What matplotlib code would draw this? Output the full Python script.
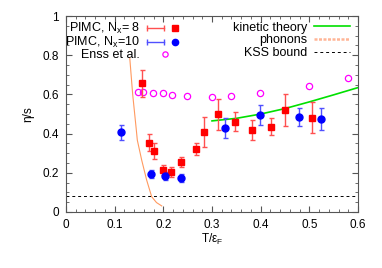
import numpy as np
import matplotlib.pyplot as plt
from matplotlib.lines import Line2D
from matplotlib.legend_handler import HandlerLine2D, HandlerTuple
from matplotlib.ticker import MultipleLocator, FormatStrFormatter

plt.rcParams['font.family'] = ['Liberation Sans', 'DejaVu Sans']
plt.rcParams['mathtext.fontset'] = 'custom'
plt.rcParams['mathtext.rm'] = 'Liberation Sans'
plt.rcParams['mathtext.it'] = 'Liberation Sans'

# PIMC, Nx = 8
t8 = [0.156, 0.1705, 0.181, 0.199, 0.215, 0.236, 0.267, 0.284, 0.313, 0.348, 0.383, 0.421, 0.45, 0.505]
eta8 = [0.657, 0.354, 0.313, 0.214, 0.206, 0.257, 0.32, 0.41, 0.498, 0.461, 0.418, 0.435, 0.52, 0.481]
err8 = [0.07, 0.045, 0.04, 0.025, 0.025, 0.025, 0.03, 0.077, 0.077, 0.05, 0.053, 0.043, 0.08, 0.08]

# PIMC, Nx = 10
t10 = [0.114, 0.174, 0.204, 0.236, 0.327, 0.399, 0.478, 0.523]
eta10 = [0.407, 0.194, 0.185, 0.172, 0.429, 0.495, 0.486, 0.474]
err10 = [0.037, 0.02, 0.02, 0.02, 0.05, 0.053, 0.047, 0.057]

# Enss et al.
t_enss = [0.148, 0.158, 0.178, 0.199, 0.217, 0.249, 0.299, 0.339, 0.399, 0.5, 0.579]
eta_enss = [0.614, 0.614, 0.609, 0.606, 0.598, 0.592, 0.588, 0.593, 0.606, 0.644, 0.685]

# kinetic theory
t_kin = [0.3, 0.35, 0.4, 0.45, 0.5, 0.55, 0.6]
eta_kin = [0.465, 0.478, 0.50, 0.528, 0.562, 0.598, 0.635]

# phonons
t_ph = [0.131, 0.137, 0.1445, 0.1465, 0.1555, 0.1657, 0.176, 0.186, 0.1966]
eta_ph = [0.786, 0.60, 0.418, 0.367, 0.265, 0.163, 0.078, 0.048, 0.031]

kss = 1 / (4 * np.pi)

fig = plt.figure(figsize=(3.82, 2.68), dpi=100)
ax = fig.add_axes([0.1728, 0.209, 0.7644, 0.731])

ax.errorbar(t8, eta8, yerr=err8, fmt='s', color='#ff0000', ecolor='#ff5050',
            ms=5, elinewidth=1, capsize=1.8, capthick=1, zorder=4)
ax.errorbar(t10, eta10, yerr=err10, fmt='o', color='#0000ff', ecolor='#5050ff',
            ms=5, elinewidth=1, capsize=1.8, capthick=1, zorder=4)
ax.plot(t_enss, eta_enss, 'o', mfc='none', mec='#ff00ff', ms=4.5, mew=0.9, zorder=3)
l_kin, = ax.plot(t_kin, eta_kin, color='#00e000', lw=1.2, zorder=2)
ax.plot(t_ph, eta_ph, color='#ff9a60', lw=0.8, zorder=2)
l_kss = ax.axhline(kss, color='black', lw=0.7, dashes=(3, 3), zorder=1)

ax.set_xlim(0, 0.6)
ax.set_ylim(0, 1)
ax.xaxis.set_major_locator(MultipleLocator(0.1))
ax.xaxis.set_minor_locator(MultipleLocator(0.02))
ax.yaxis.set_major_locator(MultipleLocator(0.2))
ax.yaxis.set_minor_locator(MultipleLocator(0.05))
ax.xaxis.set_major_formatter(FormatStrFormatter('%g'))
ax.yaxis.set_major_formatter(FormatStrFormatter('%g'))
ax.tick_params(which='both', direction='in', top=True, right=True, labelsize=8.5, color='#555555')
ax.tick_params(which='major', length=4, pad=5)
ax.tick_params(which='minor', length=2)
for s in ax.spines.values():
    s.set_color('#555555')

ax.set_xlabel('T/ε$_\\mathrm{F}$', fontsize=8.5, labelpad=1)
ax.set_ylabel('η/s', fontsize=8.5, labelpad=6)

# legend handles in gnuplot style
cap8 = Line2D([], [], color='#ff5050', lw=1, marker='|', ms=4)
mk8 = Line2D([], [], color='#ff0000', ls='none', marker='s', ms=4.5)
cap10 = Line2D([], [], color='#5050ff', lw=1, marker='|', ms=4)
mk10 = Line2D([], [], color='#0000ff', ls='none', marker='o', ms=4.5)
mk_enss = Line2D([], [], ls='none', marker='o', mfc='none', mec='#ff00ff', ms=3.8, mew=0.9)
ph_key = Line2D([], [], color='#ffb596', lw=1.8, dashes=(1.2, 0.6))
hmap = {cap8: HandlerLine2D(numpoints=2, marker_pad=0), cap10: HandlerLine2D(numpoints=2, marker_pad=0),
        tuple: HandlerTuple(ndivide=None)}

leg1 = ax.legend([(cap8, mk8), (cap10, mk10), mk_enss],
                 ['PIMC, N$_\\mathrm{x}$= 8', 'PIMC, N$_\\mathrm{x}$=10', 'Enss et al.'],
                 loc='upper left', bbox_to_anchor=(-0.012, 0.986), frameon=False, markerfirst=False,
                 fontsize=9, handlelength=2.9, handletextpad=0.6, labelspacing=-0.1,
                 borderpad=0.2, borderaxespad=0, numpoints=1, handler_map=hmap)
ax.add_artist(leg1)
ax.legend([l_kin, ph_key, l_kss], ['kinetic theory', 'phonons', 'KSS bound'],
          loc='upper right', bbox_to_anchor=(0.9815, 0.984), frameon=False, markerfirst=False,
          fontsize=9, handlelength=2.9, handletextpad=0.56, labelspacing=0.05,
          borderpad=0.2, borderaxespad=0)

fig.savefig('out.png', dpi=100)
